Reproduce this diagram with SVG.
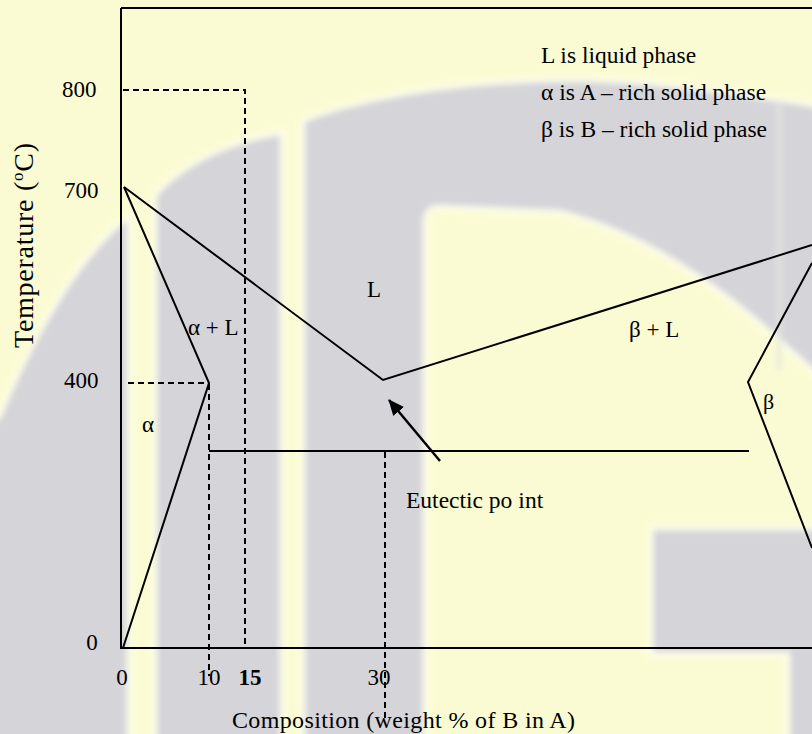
<svg xmlns="http://www.w3.org/2000/svg" width="812" height="734" viewBox="0 0 812 734" font-family="'Liberation Serif', 'Times New Roman', serif">
<defs>
<style>
.ln{fill:none;stroke:#000;stroke-width:2;stroke-linejoin:miter}
.ds{fill:none;stroke:#000;stroke-width:2;stroke-dasharray:6 4}
.t{font-family:"Liberation Serif","Times New Roman",serif;font-size:23px;fill:#000}
.lg{font-size:23.5px}
.wm{fill:#D4D4D9;stroke:#FFFFEE;stroke-width:9;paint-order:stroke}
</style>
<filter id="blur" x="-5%" y="-5%" width="110%" height="110%">
<feGaussianBlur stdDeviation="3"/>
</filter>
<marker id="ah" markerWidth="16" markerHeight="14" refX="15" refY="7" orient="auto" markerUnits="userSpaceOnUse">
<path d="M0,0 L16,7 L0,14 Z" fill="#000"/>
</marker>
</defs>
<rect x="0" y="0" width="812" height="734" fill="#FBFBD3"/>
<g id="watermark" filter="url(#blur)">
<path class="wm" d="M0,420 C30,350 70,268 127,220 L127,760 L-20,760 L-20,420 Z"/>
<path class="wm" d="M157,196 C185,165 225,145 280,135 L280,760 L157,760 Z"/>
<path class="wm" d="M305,122 C360,100 450,85 545,82 C640,80 720,92 830,110 L830,380 L812,367 C770,330 680,240 560,210 L440,205 Q423,205 423,222 L423,760 L305,760 Z"/>
<path class="wm" d="M653,530 L830,530 L830,760 L790,760 L790,652 L653,652 Z"/>
<rect x="777" y="100" width="4" height="270" fill="#E6E6E0"/>
</g>
<g id="axes">
<path class="ln" d="M121,8 L812,8 M121,8 L121,648 L812,648"/>
</g>
<g id="phase-lines">
<path class="ln" d="M124,187 L383,380 L812,245"/>
<path class="ln" d="M124,187 L209,383 L123,648"/>
<path class="ln" d="M209,451 L749,451"/>
<path class="ln" d="M812,263 L748,382 L812,548"/>
</g>
<g id="guides">
<path class="ds" d="M123,90 H245 V648"/>
<path class="ds" d="M128,383 H209"/>
<path class="ds" d="M209,384 V676"/>
<path class="ds" d="M385,452 V719"/>
</g>
<g id="connectors">
<line x1="440" y1="461" x2="389" y2="400" stroke="#000" stroke-width="2.5" marker-end="url(#ah)"/>
</g>
<g id="y-labels">
<text class="t" x="62" y="97">800</text>
<text class="t" x="64" y="198">700</text>
<text class="t" x="64" y="388">400</text>
<text class="t" x="92" y="650" text-anchor="middle">0</text>
<text class="t" transform="translate(33,348) rotate(-90)" style="font-size:28px" textLength="205" lengthAdjust="spacing">Temperature (<tspan style="font-size:17px" dy="-10">o</tspan><tspan dy="10">C)</tspan></text>
</g>
<g id="x-labels">
<text class="t" x="122" y="685" text-anchor="middle">0</text>
<text class="t" x="209" y="685" text-anchor="middle">10</text>
<text class="t" x="250" y="685" text-anchor="middle" font-weight="bold">15</text>
<text class="t" x="379" y="685" text-anchor="middle">30</text>
<text class="t" x="232" y="728" style="font-size:24px" textLength="343" lengthAdjust="spacing">Composition (weight % of B in A)</text>
</g>
<g id="region-labels">
<text class="t" x="367" y="297">L</text>
<text class="t" x="188" y="335">α + L</text>
<text class="t" x="629" y="337">β + L</text>
<text class="t" x="142" y="432">α</text>
<text class="t" x="763" y="409" style="font-size:22px">β</text>
<text class="t" x="406" y="508" style="font-size:23.5px">Eutectic po<tspan dx="6">int</tspan></text>
</g>
<g id="legend">
<text class="t lg" x="541" y="63">L is liquid phase</text>
<text class="t lg" x="541" y="100">α is A – rich solid phase</text>
<text class="t lg" x="541" y="137">β is B – rich solid phase</text>
</g>
</svg>
